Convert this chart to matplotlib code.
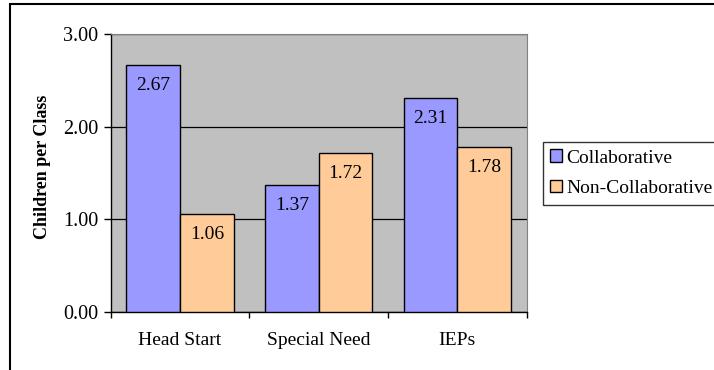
import matplotlib
matplotlib.use("Agg")
import matplotlib.pyplot as plt
from matplotlib.patches import Rectangle, Patch
import numpy as np

categories = ["Head Start", "Special Need", "IEPs"]
collaborative = [2.67, 1.37, 2.31]
non_collaborative = [1.06, 1.72, 1.78]
series_names = ["Collaborative", "Non-Collaborative"]
y_ticks = [0.0, 1.0, 2.0, 3.0]

W, H, DPI = 714, 370, 100
plt.rcParams["font.family"] = ["Liberation Serif", "DejaVu Serif"]

fig = plt.figure(figsize=(W / DPI, H / DPI), dpi=DPI)
fig.patch.set_facecolor("white")

# chart frame (runs off the right and bottom edges)
fig.patches.append(Rectangle((10 / W, -0.05), 1.2, 1 - 3.5 / H + 0.05,
                             transform=fig.transFigure, fill=False,
                             edgecolor="black", linewidth=1.5, zorder=0))

ax = fig.add_axes([110.7 / W, 1 - 311.7 / H, 416 / W, 277.4 / H])
ax.set_facecolor("#C0C0C0")

x = np.arange(len(categories))
bw = 0.387
b1 = ax.bar(x - bw / 2, collaborative, bw, color="#9999FF",
            edgecolor="black", linewidth=1.0, zorder=3, label=series_names[0])
b2 = ax.bar(x + bw / 2, non_collaborative, bw, color="#FFCC99",
            edgecolor="black", linewidth=1.0, zorder=3, label=series_names[1])

for bars, vals in ((b1, collaborative), (b2, non_collaborative)):
    for rect, v in zip(bars, vals):
        ax.annotate(f"{v:.2f}", (rect.get_x() + rect.get_width() / 2, v),
                    xytext=(0, -15), textcoords="offset points",
                    ha="center", va="center", fontsize=14, zorder=4)

ax.set_xlim(-0.5, len(categories) - 0.5)
ax.set_ylim(0, 3)
ax.set_yticks(y_ticks)
ax.set_yticklabels([f"{t:.2f}" for t in y_ticks], fontsize=14.5)
ax.yaxis.grid(True, color="black", linewidth=0.9, zorder=1)
ax.set_axisbelow(True)

ax.set_xticks(np.arange(-0.5, len(categories)), minor=False)
ax.set_xticklabels([])
ax.set_xticks(x, minor=True)
ax.set_xticklabels(categories, minor=True, fontsize=14)
ax.tick_params(axis="x", which="major", length=4, width=1, direction="out")
ax.tick_params(axis="x", which="minor", length=0, pad=14.5)
ax.tick_params(axis="y", length=5, width=1, direction="out", pad=4)

for side in ("top", "right"):
    ax.spines[side].set_color("#808080")
    ax.spines[side].set_linewidth(0.8)
for side in ("left", "bottom"):
    ax.spines[side].set_color("black")
    ax.spines[side].set_linewidth(1.0)

ax.set_ylabel("Children per Class", fontsize=13, fontweight="bold")
ax.yaxis.label.set_va("center")
ax.yaxis.set_label_coords(-0.1635, 0.523)

handles = [Patch(facecolor="#9999FF", edgecolor="black", linewidth=1.0),
           Patch(facecolor="#FFCC99", edgecolor="black", linewidth=1.0)]
leg = fig.legend(handles, series_names, loc="upper left",
                 bbox_to_anchor=(542.7 / W, 1 - 141.7 / H),
                 bbox_transform=fig.transFigure, fontsize=14,
                 frameon=True, fancybox=False, shadow=False,
                 handlelength=0.6, handleheight=0.6, handletextpad=0.2,
                 labelspacing=0.7, borderpad=0.4, borderaxespad=0)
leg.get_frame().set_edgecolor("black")
leg.get_frame().set_linewidth(1.0)
leg.get_frame().set_facecolor("white")

fig.savefig("out.png", dpi=DPI)
